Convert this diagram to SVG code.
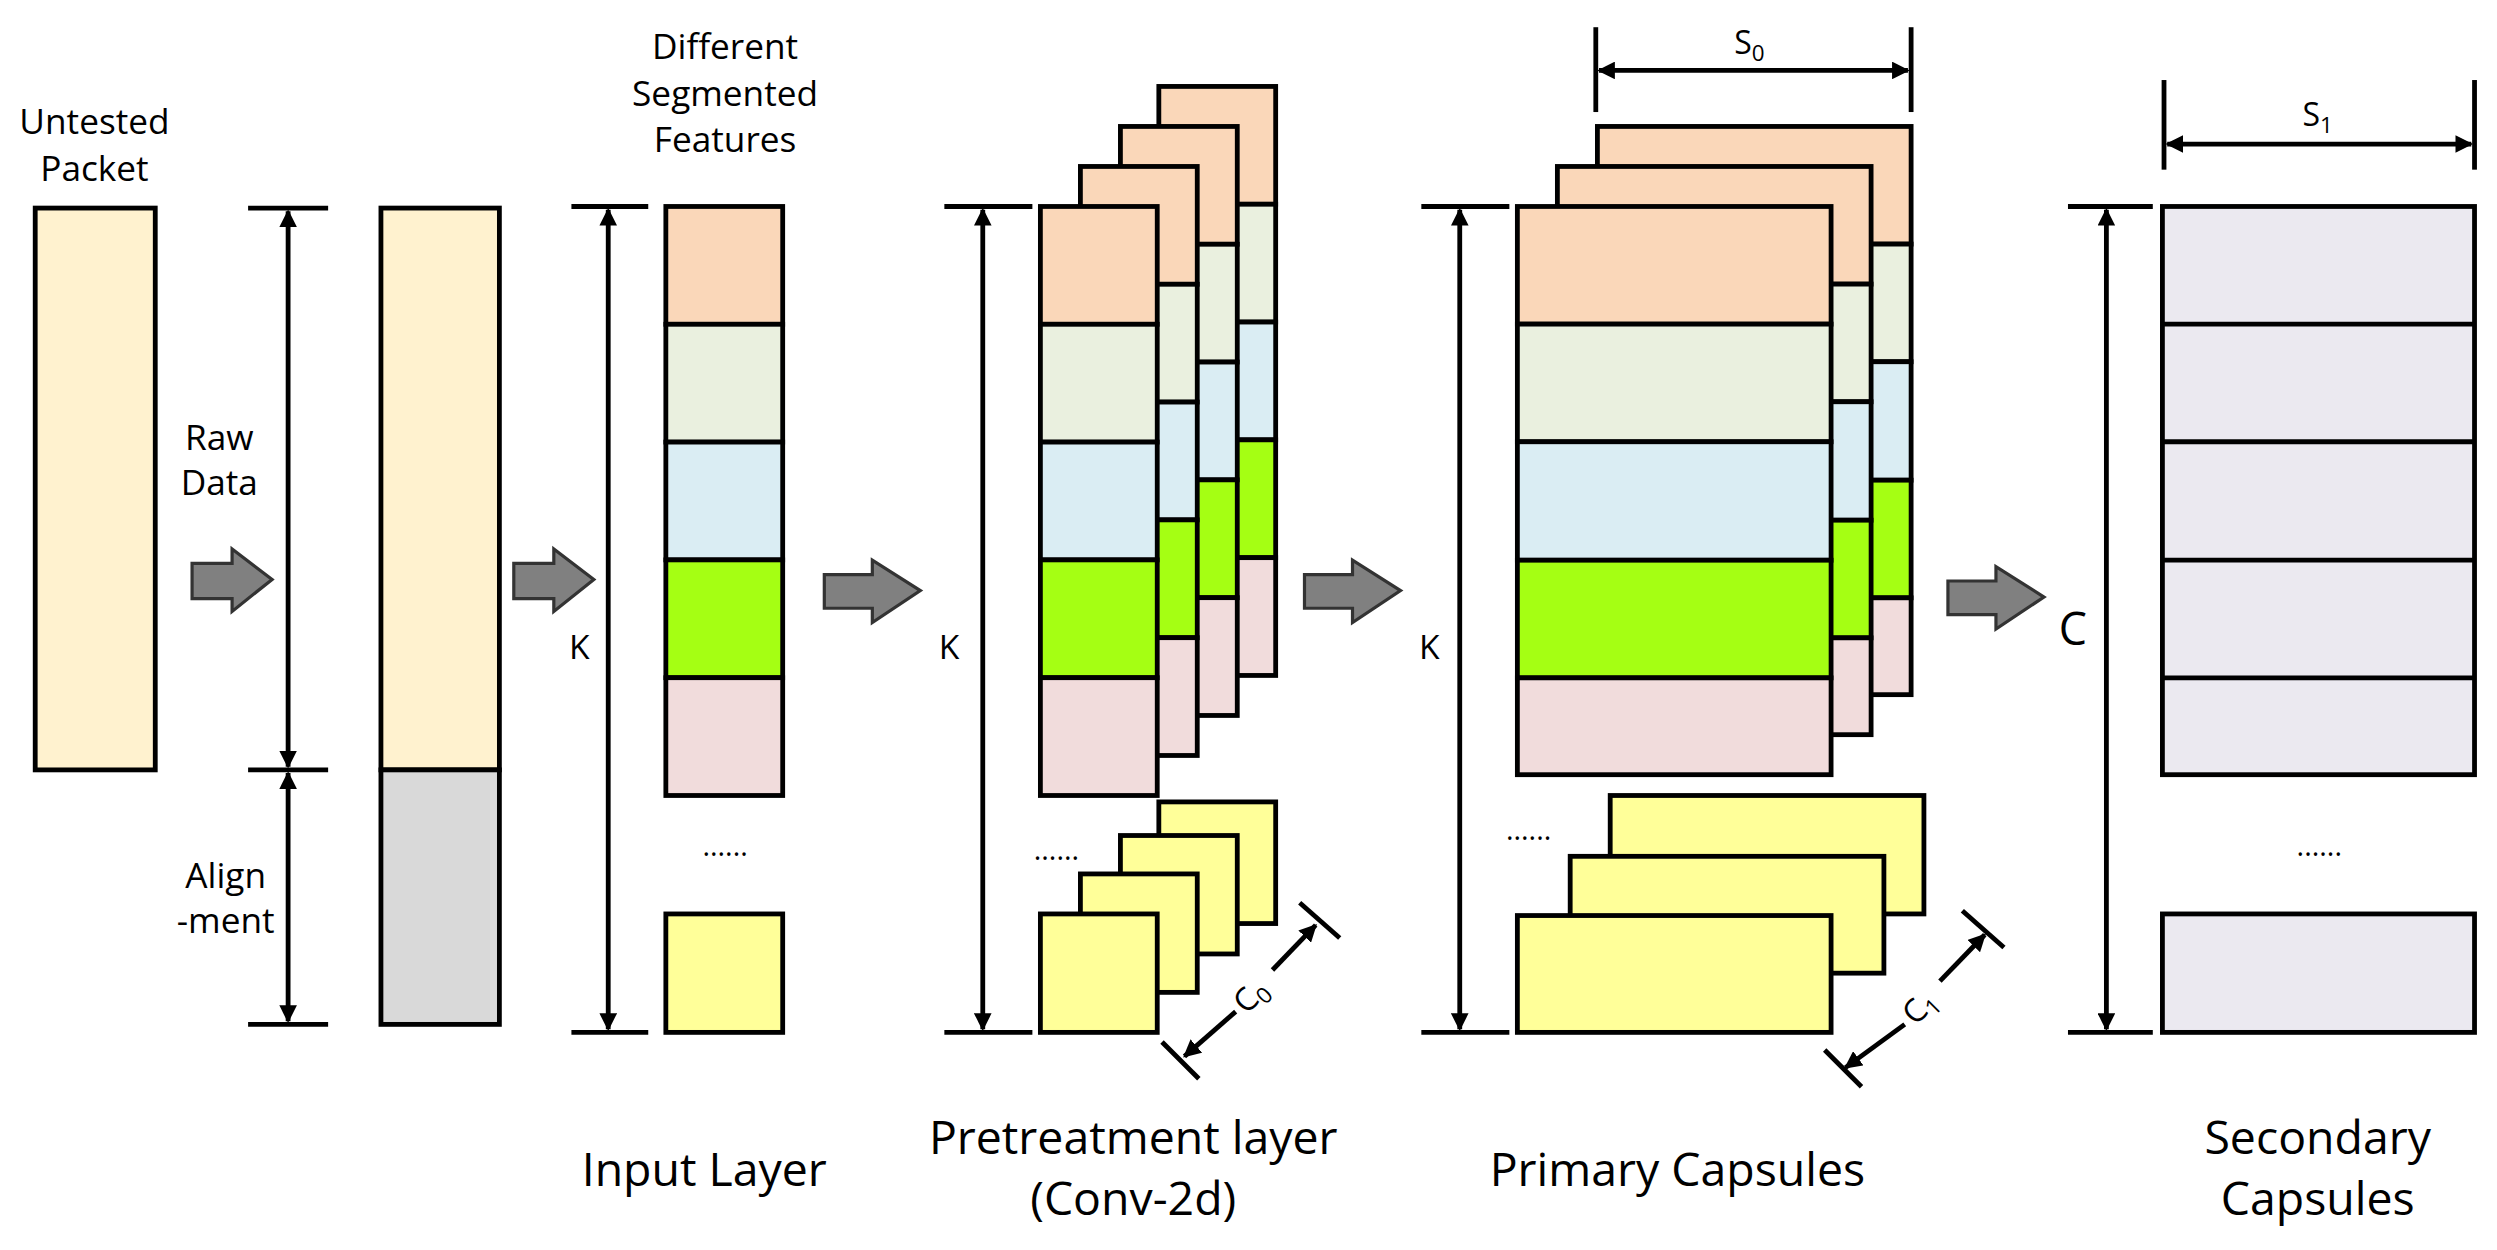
<svg xmlns="http://www.w3.org/2000/svg" width="2497" height="1250" viewBox="0 0 2497 1250">
<defs>
<marker id="ah" viewBox="0 0 10 10" refX="9" refY="5" markerWidth="11" markerHeight="11" markerUnits="userSpaceOnUse" orient="auto-start-reverse"><path d="M0,0 L10,5 L0,10 z" fill="#000"/></marker>
</defs>
<style>
.b{stroke:#000;stroke-width:3;stroke-linejoin:miter}
.t{font-family:"Open Sans","Liberation Sans",sans-serif;fill:#000;text-anchor:middle}
.dim{stroke:#000;stroke-width:3;fill:none}
.tk{stroke:#000;stroke-width:3}
.blk{fill:#808080;stroke:#333;stroke-width:2}
.c1{fill:#FAD7B9}.c2{fill:#EAF0DF}.c3{fill:#DAEDF3}.c4{fill:#A5FF13}.c5{fill:#F1DCDC}.y{fill:#FFFF99}.cr{fill:#FFF2CF}.g{fill:#D9D9D9}.s{fill:#EBE9F0}
</style>
<rect width="2497" height="1250" fill="#fff"/>
<g transform="scale(1.6006)">
<g id="connectors">
<polygon class="blk" points="120,352 145,352 145,343 170,362 145,382 145,374 120,374"/>
<polygon class="blk" points="321,352 346,352 346,343 371,362 346,382 346,374 321,374"/>
<polygon class="blk" points="515,359 545,359 545,350 575,369 545,389 545,380 515,380"/>
<polygon class="blk" points="815,359 845,359 845,350 875,369 845,389 845,380 815,380"/>
<polygon class="blk" points="1217,363 1247,363 1247,354 1277,373 1247,393 1247,384 1217,384"/>
<line class="tk" x1="155" y1="130" x2="205" y2="130"/><line class="tk" x1="155" y1="481" x2="205" y2="481"/><line class="tk" x1="155" y1="640" x2="205" y2="640"/>
<line class="dim" x1="180" y1="132" x2="180" y2="479" marker-start="url(#ah)" marker-end="url(#ah)"/>
<line class="dim" x1="180" y1="483" x2="180" y2="638" marker-start="url(#ah)" marker-end="url(#ah)"/>
<line class="tk" x1="357" y1="129" x2="405" y2="129"/><line class="tk" x1="357" y1="645" x2="405" y2="645"/>
<line class="dim" x1="380" y1="131" x2="380" y2="643" marker-start="url(#ah)" marker-end="url(#ah)"/>
<line class="tk" x1="590" y1="129" x2="645" y2="129"/><line class="tk" x1="590" y1="645" x2="645" y2="645"/>
<line class="dim" x1="614" y1="131" x2="614" y2="643" marker-start="url(#ah)" marker-end="url(#ah)"/>
<line class="tk" x1="888" y1="129" x2="943" y2="129"/><line class="tk" x1="888" y1="645" x2="943" y2="645"/>
<line class="dim" x1="912" y1="131" x2="912" y2="643" marker-start="url(#ah)" marker-end="url(#ah)"/>
<line class="tk" x1="1292" y1="129" x2="1345" y2="129"/><line class="tk" x1="1292" y1="645" x2="1345" y2="645"/>
<line class="dim" x1="1316" y1="131" x2="1316" y2="643" marker-start="url(#ah)" marker-end="url(#ah)"/>
<line class="tk" x1="997" y1="17" x2="997" y2="70"/><line class="tk" x1="1194" y1="17" x2="1194" y2="70"/>
<line class="dim" x1="999" y1="44" x2="1192" y2="44" marker-start="url(#ah)" marker-end="url(#ah)"/>
<line class="tk" x1="1352" y1="50" x2="1352" y2="106"/><line class="tk" x1="1546" y1="50" x2="1546" y2="106"/>
<line class="dim" x1="1354" y1="90" x2="1544" y2="90" marker-start="url(#ah)" marker-end="url(#ah)"/>
<line class="tk" x1="726" y1="651" x2="749" y2="674"/><line class="tk" x1="812" y1="564" x2="837" y2="586"/>
<line class="dim" x1="772" y1="632" x2="740" y2="660" marker-end="url(#ah)"/>
<line class="dim" x1="795" y1="606" x2="822" y2="578" marker-end="url(#ah)"/>
<line class="tk" x1="1140" y1="656" x2="1163" y2="679"/><line class="tk" x1="1226" y1="569" x2="1252" y2="592"/>
<line class="dim" x1="1190" y1="640" x2="1153" y2="667" marker-end="url(#ah)"/>
<line class="dim" x1="1212" y1="613" x2="1240" y2="584" marker-end="url(#ah)"/>
</g>
<g id="untested"><rect class="b cr" x="22" y="130" width="75" height="351"/></g>
<g id="aligned"><rect class="b cr" x="238" y="130" width="74" height="351"/><rect class="b g" x="238" y="481" width="74" height="159"/></g>
<g id="input">
<rect class="b c1" x="416" y="129" width="73" height="73.6"/><rect class="b c2" x="416" y="202.6" width="73" height="73.6"/><rect class="b c3" x="416" y="276.2" width="73" height="73.6"/><rect class="b c4" x="416" y="349.8" width="73" height="73.6"/><rect class="b c5" x="416" y="423.4" width="73" height="73.6"/>
<rect class="b y" x="416" y="571" width="73" height="74"/>
</g>
<g id="pre">
<g transform="translate(74,-75)"><rect class="b c1" x="650" y="129" width="73" height="73.6"/><rect class="b c2" x="650" y="202.6" width="73" height="73.6"/><rect class="b c3" x="650" y="276.2" width="73" height="73.6"/><rect class="b c4" x="650" y="349.8" width="73" height="73.6"/><rect class="b c5" x="650" y="423.4" width="73" height="73.6"/></g>
<g transform="translate(50,-50)"><rect class="b c1" x="650" y="129" width="73" height="73.6"/><rect class="b c2" x="650" y="202.6" width="73" height="73.6"/><rect class="b c3" x="650" y="276.2" width="73" height="73.6"/><rect class="b c4" x="650" y="349.8" width="73" height="73.6"/><rect class="b c5" x="650" y="423.4" width="73" height="73.6"/></g>
<g transform="translate(25,-25)"><rect class="b c1" x="650" y="129" width="73" height="73.6"/><rect class="b c2" x="650" y="202.6" width="73" height="73.6"/><rect class="b c3" x="650" y="276.2" width="73" height="73.6"/><rect class="b c4" x="650" y="349.8" width="73" height="73.6"/><rect class="b c5" x="650" y="423.4" width="73" height="73.6"/></g>
<rect class="b c1" x="650" y="129" width="73" height="73.6"/><rect class="b c2" x="650" y="202.6" width="73" height="73.6"/><rect class="b c3" x="650" y="276.2" width="73" height="73.6"/><rect class="b c4" x="650" y="349.8" width="73" height="73.6"/><rect class="b c5" x="650" y="423.4" width="73" height="73.6"/>
<rect class="b y" x="724" y="501" width="73" height="76"/>
<rect class="b y" x="700" y="522" width="73" height="74"/>
<rect class="b y" x="675" y="546" width="73" height="74"/>
<rect class="b y" x="650" y="571" width="73" height="74"/>
</g>
<g id="primary">
<g transform="translate(50,-50)"><rect class="b c1" x="948" y="129" width="196" height="73.5"/><rect class="b c2" x="948" y="202.5" width="196" height="73.5"/><rect class="b c3" x="948" y="276" width="196" height="74"/><rect class="b c4" x="948" y="350" width="196" height="73.5"/><rect class="b c5" x="948" y="423.5" width="196" height="60.5"/></g>
<g transform="translate(25,-25)"><rect class="b c1" x="948" y="129" width="196" height="73.5"/><rect class="b c2" x="948" y="202.5" width="196" height="73.5"/><rect class="b c3" x="948" y="276" width="196" height="74"/><rect class="b c4" x="948" y="350" width="196" height="73.5"/><rect class="b c5" x="948" y="423.5" width="196" height="60.5"/></g>
<rect class="b c1" x="948" y="129" width="196" height="73.5"/><rect class="b c2" x="948" y="202.5" width="196" height="73.5"/><rect class="b c3" x="948" y="276" width="196" height="74"/><rect class="b c4" x="948" y="350" width="196" height="73.5"/><rect class="b c5" x="948" y="423.5" width="196" height="60.5"/>
<rect class="b y" x="1006" y="497" width="196" height="74"/>
<rect class="b y" x="981" y="535" width="196" height="73"/>
<rect class="b y" x="948" y="572" width="196" height="73"/>
</g>
<g id="secondary">
<rect class="b s" x="1351" y="129" width="195" height="355"/>
<line class="b" x1="1351" y1="202.5" x2="1546" y2="202.5"/><line class="b" x1="1351" y1="276" x2="1546" y2="276"/><line class="b" x1="1351" y1="350" x2="1546" y2="350"/><line class="b" x1="1351" y1="423.5" x2="1546" y2="423.5"/>
<rect class="b s" x="1351" y="571" width="195" height="74"/>
</g>
<g id="labels">
<text class="t" font-size="22" x="59" y="84">Untested</text><text class="t" font-size="22" x="59" y="113">Packet</text>
<text class="t" font-size="22" x="137" y="281">Raw</text><text class="t" font-size="22" x="137" y="309">Data</text>
<text class="t" font-size="22" x="141" y="555">Align</text><text class="t" font-size="22" x="141" y="583">-ment</text>
<text class="t" font-size="22" x="453" y="37">Different</text><text class="t" font-size="22" x="453" y="66">Segmented</text><text class="t" font-size="22" x="453" y="95">Features</text>
<text class="t" font-size="21" x="362" y="412">K</text><text class="t" font-size="21" x="593" y="412">K</text><text class="t" font-size="21" x="893" y="412">K</text>
<text class="t" font-size="28" x="1295" y="403">C</text>
<text class="t" font-size="20" x="1093" y="34">S<tspan font-size="14" dy="4">0</tspan></text>
<text class="t" font-size="20" x="1448" y="79">S<tspan font-size="14" dy="4">1</tspan></text>
<text class="t" font-size="20" transform="translate(786,627) rotate(-45)">C<tspan font-size="14" dy="4">0</tspan></text>
<text class="t" font-size="20" transform="translate(1204,634) rotate(-45)">C<tspan font-size="14" dy="4">1</tspan></text>
<text class="t" font-size="18" x="453" y="535">......</text>
<text class="t" font-size="18" x="660" y="537">......</text>
<text class="t" font-size="18" x="955" y="525">......</text>
<text class="t" font-size="18" x="1449" y="535">......</text>
<text class="t" font-size="29" x="440" y="741">Input Layer</text>
<text class="t" font-size="29" x="708" y="721">Pretreatment layer</text><text class="t" font-size="29" x="708" y="759">(Conv-2d)</text>
<text class="t" font-size="29" x="1048" y="741">Primary Capsules</text>
<text class="t" font-size="29" x="1448" y="721">Secondary</text><text class="t" font-size="29" x="1448" y="759">Capsules</text>
</g>
</g>
</svg>
